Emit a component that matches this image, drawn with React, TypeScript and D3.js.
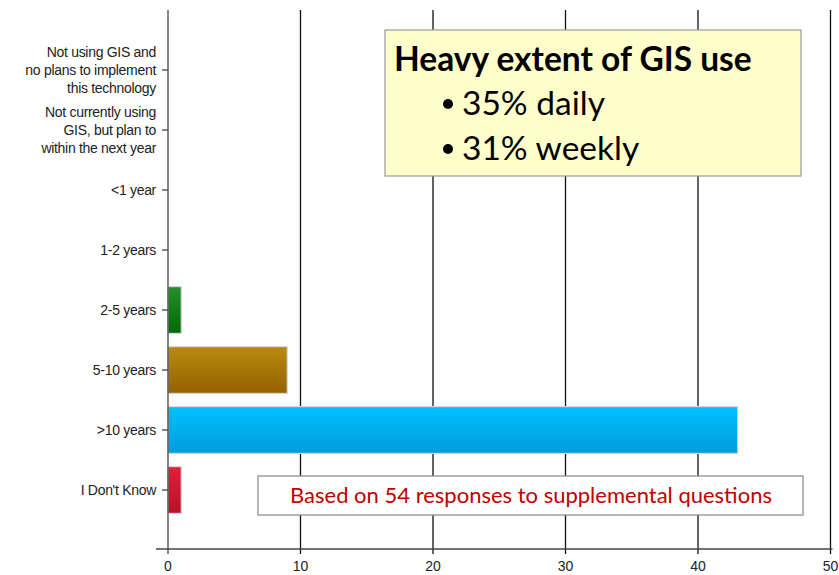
import React, { useEffect, useRef } from "react";
import * as d3 from "d3";

const categories = [
  "Not using GIS and\nno plans to implement\nthis technology",
  "Not currently using\nGIS, but plan to\nwithin the next year",
  "<1 year",
  "1-2 years",
  "2-5 years",
  "5-10 years",
  ">10 years",
  "I Don't Know",
];
const values = [0, 0, 0, 0, 1, 9, 43, 1];
const barColors = [
  ["#999", "#777"],
  ["#999", "#777"],
  ["#999", "#777"],
  ["#999", "#777"],
  ["#23902a", "#016a02"],
  ["#b98a0e", "#966100"],
  ["#00c0ff", "#009cda"],
  ["#e0203a", "#b8102a"],
];
const xTicks = [0, 10, 20, 30, 40, 50];
const noteTitle = "Heavy extent of GIS use";
const noteBullets = ["35% daily", "31% weekly"];
const footNote = "Based on 54 responses to supplemental questions";

const App = () => {
  const svgRef = useRef<SVGSVGElement>(null);

  useEffect(() => {
    const svg = d3.select(svgRef.current);
    svg.selectAll("*").remove();

    const width = 839;
    const height = 575;
    const top = 10;
    const bottom = 549;

    const x = d3.scaleLinear().domain([0, 50]).range([168, 830.5]);
    const y = d3
      .scaleBand<string>()
      .domain(categories)
      .range([40, 520])
      .paddingInner(0.22)
      .paddingOuter(0.11);

    svg.attr("width", width).attr("height", height);

    // gradients for the bars
    const defs = svg.append("defs");
    barColors.forEach((c, i) => {
      const g = defs
        .append("linearGradient")
        .attr("id", "grad" + i)
        .attr("x1", 0)
        .attr("y1", 0)
        .attr("x2", 0)
        .attr("y2", 1);
      g.append("stop").attr("offset", "0%").attr("stop-color", c[0]);
      g.append("stop").attr("offset", "100%").attr("stop-color", c[1]);
    });

    // vertical grid lines
    svg
      .selectAll(".grid")
      .data(xTicks.slice(1))
      .join("line")
      .attr("class", "grid")
      .attr("x1", (d) => x(d))
      .attr("x2", (d) => x(d))
      .attr("y1", top)
      .attr("y2", bottom + 5)
      .attr("stroke", "#111")
      .attr("stroke-width", 1.3);

    // bars
    categories.forEach((c, i) => {
      if (values[i] <= 0) return;
      svg
        .append("rect")
        .attr("x", x(0))
        .attr("y", y(c)!)
        .attr("width", x(values[i]) - x(0))
        .attr("height", y.bandwidth())
        .attr("fill", `url(#grad${i})`)
        .attr("stroke", "#d8d8d8")
        .attr("stroke-width", 1.2);
    });

    // axis lines
    svg
      .append("line")
      .attr("x1", x(0))
      .attr("x2", x(0))
      .attr("y1", top)
      .attr("y2", bottom + 5)
      .attr("stroke", "#444")
      .attr("stroke-width", 1.3);
    svg
      .append("line")
      .attr("x1", 156)
      .attr("x2", x(50) + 2)
      .attr("y1", bottom)
      .attr("y2", bottom)
      .attr("stroke", "#444")
      .attr("stroke-width", 1.3);

    // x tick labels
    svg
      .selectAll(".xl")
      .data(xTicks)
      .join("text")
      .attr("class", "xl")
      .attr("x", (d) => x(d))
      .attr("y", 571)
      .attr("text-anchor", "middle")
      .attr("font-family", "Liberation Sans, Arial, sans-serif")
      .attr("font-size", 14)
      .attr("fill", "#222")
      .text((d) => d);

    // y ticks and labels
    categories.forEach((c) => {
      const cy = y(c)! + y.bandwidth() / 2;
      svg
        .append("line")
        .attr("x1", x(0) - 6)
        .attr("x2", x(0))
        .attr("y1", cy)
        .attr("y2", cy)
        .attr("stroke", "#444")
        .attr("stroke-width", 1.3);
      const lines = c.split("\n");
      const t = svg
        .append("text")
        .attr("text-anchor", "end")
        .attr("font-family", "Liberation Sans, Arial, sans-serif")
        .attr("font-size", 14)
        .attr("letter-spacing", -0.3)
        .attr("fill", "#222");
      lines.forEach((l, j) => {
        t.append("tspan")
          .attr("x", 156)
          .attr("y", cy + 5 + (j - (lines.length - 1) / 2) * 18)
          .text(l);
      });
    });

    // note box
    svg
      .append("rect")
      .attr("x", 385)
      .attr("y", 30)
      .attr("width", 416)
      .attr("height", 146)
      .attr("fill", "#ffffcc")
      .attr("stroke", "#999")
      .attr("stroke-width", 1.2);
    svg
      .append("text")
      .attr("x", 394)
      .attr("y", 71)
      .attr("font-family", "Lato, Open Sans, sans-serif")
      .attr("font-weight", "bold")
      .attr("font-size", 33.5)
      .attr("fill", "#000")
      .text(noteTitle);
    noteBullets.forEach((b, i) => {
      const by = 115 + i * 45;
      svg
        .append("circle")
        .attr("cx", 448)
        .attr("cy", by - 11)
        .attr("r", 5)
        .attr("fill", "#000");
      svg
        .append("text")
        .attr("x", 462)
        .attr("y", by)
        .attr("font-family", "Lato, Open Sans, sans-serif")
        .attr("font-size", 33.5)
        .attr("fill", "#000")
        .text(b);
    });

    // footnote box
    svg
      .append("rect")
      .attr("x", 258)
      .attr("y", 476)
      .attr("width", 545)
      .attr("height", 39)
      .attr("fill", "#fff")
      .attr("stroke", "#888")
      .attr("stroke-width", 1.2);
    svg
      .append("text")
      .attr("x", 531)
      .attr("y", 503)
      .attr("text-anchor", "middle")
      .attr("font-family", "Lato, Open Sans, sans-serif")
      .attr("font-size", 22)
      .attr("fill", "#c00000")
      .text(footNote);
  }, []);

  return (
    <svg
      ref={svgRef}
      style={{ position: "absolute", left: 0, top: 0, display: "block" }}
    ></svg>
  );
};

export default App;
